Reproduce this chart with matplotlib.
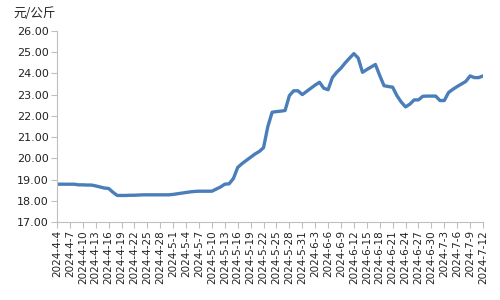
import numpy as np
import pandas as pd
import matplotlib.pyplot as plt

plt.rcParams['font.family'] = ['DejaVu Sans', 'Noto Sans CJK SC']

dates = pd.date_range('2024-04-04', '2024-07-12', freq='D')
labels = [f'{d.year}-{d.month}-{d.day}' for d in dates]

price = [
    18.78, 18.78, 18.78, 18.78, 18.78, 18.75, 18.75, 18.74, 18.74, 18.70,
    18.65, 18.60, 18.58, 18.40, 18.25, 18.25, 18.25, 18.26, 18.26, 18.27,
    18.28, 18.28, 18.28, 18.28, 18.28, 18.28, 18.28, 18.30, 18.33, 18.36,
    18.39, 18.42, 18.44, 18.45, 18.45, 18.45, 18.45, 18.55, 18.65, 18.78,
    18.80, 19.05, 19.57, 19.75, 19.90, 20.05, 20.20, 20.32, 20.50, 21.50,
    22.17, 22.20, 22.22, 22.25, 22.95, 23.18, 23.18, 23.00, 23.15, 23.30,
    23.45, 23.58, 23.30, 23.23, 23.80, 24.05, 24.25, 24.50, 24.72, 24.93,
    24.72, 24.05, 24.18, 24.30, 24.42, 23.90, 23.42, 23.38, 23.35, 22.95,
    22.65, 22.42, 22.55, 22.75, 22.75, 22.92, 22.93, 22.93, 22.93, 22.72,
    22.72, 23.10, 23.25, 23.38, 23.50, 23.62, 23.88, 23.80, 23.80, 23.88,
]

x = np.arange(len(price))

fig = plt.figure(figsize=(5, 3), dpi=100)
ax = fig.add_axes([0.114, 0.26, 0.852, 0.637])

ax.plot(x, price, color='#4A7EBB', linewidth=2.4, solid_capstyle='round')

ax.set_xlim(0, len(price) - 1)
ax.set_ylim(17, 26)
ax.set_yticks(np.arange(17, 27, 1))
ax.set_yticklabels([f'{v:.2f}' for v in np.arange(17, 27, 1)], fontsize=8)

ax.set_xticks(x[::3])
ax.set_xticklabels(labels[::3], rotation=90, fontsize=7.5)

for s in ['top', 'right']:
    ax.spines[s].set_visible(False)
for s in ['left', 'bottom']:
    ax.spines[s].set_color('#BFBFBF')
ax.tick_params(axis='both', color='#BFBFBF', length=4, labelcolor='#222222', pad=2)

fig.text(0.026, 0.955, '元/公斤', fontsize=9, family=['Noto Sans CJK SC', 'DejaVu Sans'],
         va='center', ha='left', color='#222222')

fig.savefig('out.png', dpi=100)
